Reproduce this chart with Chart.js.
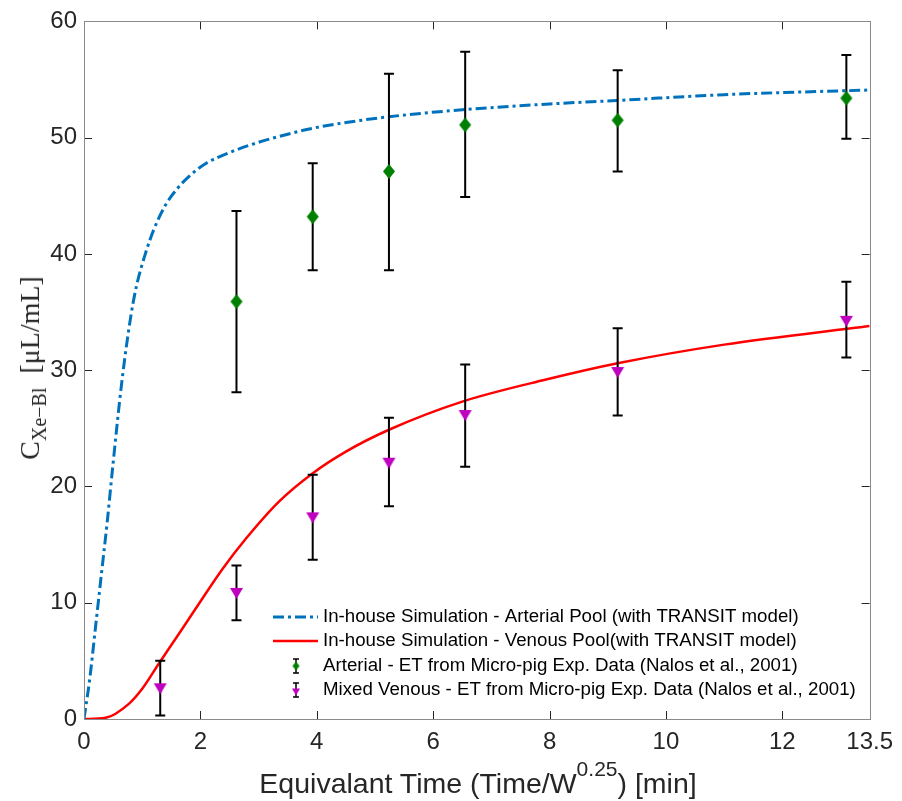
<!DOCTYPE html>
<html>
<head>
<meta charset="utf-8">
<script src="https://cdn.jsdelivr.net/npm/chart.js@4.4.1/dist/chart.umd.min.js"></script>
<style>
    html, body { margin: 0; padding: 0; background: #fff; }
    #wrap { position: relative; width: 902px; height: 801px; overflow: hidden; }
    #xlabel {
        position: absolute; left: 478px; top: 769px; transform: translateX(-50%);
        font-family: "Liberation Sans", Arial, sans-serif; font-size: 28.5px; line-height: 28px;
        color: #262626; white-space: nowrap;
    }
    #xlabel .sup { position: relative; top: -17px; font-size: 21px; }
    #ylabel {
        position: absolute; left: 31px; top: 368px; transform: translate(-50%, -50%) rotate(-90deg);
        font-family: "Liberation Serif", "Times New Roman", serif; font-size: 28px; line-height: 28px;
        color: #262626; white-space: nowrap;
    }
    #ylabel .sub { position: relative; top: 7px; font-size: 20px; }
</style>
</head>
<body>
<div id="wrap">
    <canvas id="chart" width="902" height="801"></canvas>
    <div id="xlabel">Equivalant Time (Time/W<span class="sup">0.25</span>) [min]</div>
    <div id="ylabel">C<span class="sub">Xe−Bl</span>&nbsp;&nbsp;[μL/mL]</div>
</div>
<script>
const xTicks = [0, 2, 4, 6, 8, 10, 12, 13.5];
const yTicks = [0, 10, 20, 30, 40, 50, 60];

const legendLabels = [
    'In-house Simulation - Arterial Pool (with TRANSIT model)',
    'In-house Simulation - Venous Pool(with TRANSIT model)',
    'Arterial - ET from Micro-pig Exp. Data (Nalos et al., 2001)',
    'Mixed Venous - ET from Micro-pig Exp. Data (Nalos et al., 2001)'
];

// simulated curves
const simArtX = [0, 0.1, 0.2, 0.3, 0.4, 0.5, 0.65, 0.8, 0.9, 1.06, 1.2, 1.4, 1.6, 1.81, 2.1, 2.49, 3, 3.5, 3.92, 4.5, 5.24, 6.5, 8, 9.15, 11, 13.5];
const simArtY = [0, 3.5, 8, 12.5, 17, 22, 29, 34.5, 37.2, 40.1, 42.1, 44.2, 45.6, 46.7, 47.8, 48.7, 49.6, 50.3, 50.8, 51.3, 51.8, 52.4, 52.9, 53.2, 53.7, 54.1];
const simVenX = [0, 0.37, 0.77, 1.0, 1.29, 1.6, 1.92, 2.38, 2.78, 3.35, 3.92, 4.5, 5.25, 6.5, 7.94, 9.17, 11, 13.5];
const simVenY = [0, 0.1, 1.3, 2.6, 4.8, 7.1, 9.5, 12.9, 15.5, 18.7, 21.1, 23.0, 24.9, 27.3, 29.2, 30.6, 32.2, 33.8];

// experimental points with error bars
const artX = [2.62, 3.93, 5.24, 6.55, 9.17, 13.1];
const artMean = [35.9, 43.2, 47.1, 51.1, 51.5, 53.4];
const artLo = [28.1, 38.6, 38.6, 44.9, 47.1, 49.9];
const artHi = [43.7, 47.8, 55.5, 57.4, 55.8, 57.1];

const venX = [1.31, 2.62, 3.93, 5.24, 6.55, 9.17, 13.1];
const venMean = [2.6, 10.8, 17.3, 22.0, 26.1, 29.8, 34.2];
const venLo = [0.3, 8.5, 13.7, 18.3, 21.7, 26.1, 31.1];
const venHi = [5.0, 13.2, 21.0, 25.9, 30.5, 33.6, 37.6];

const BLUE = '#0072BD';
const RED = '#FF0000';
const GREEN = '#008000';
const MAGENTA = '#BF00BF';
const BLUE_DASH = [11, 4, 3, 4];

function makeMarker(kind, w, h, color) {
    const c = document.createElement('canvas');
    c.width = w + 2; c.height = h + 2;
    const g = c.getContext('2d');
    g.beginPath();
    if (kind === 'diamond') {
        g.moveTo(1 + w / 2, 1); g.lineTo(1 + w, 1 + h / 2);
        g.lineTo(1 + w / 2, 1 + h); g.lineTo(1, 1 + h / 2);
    } else {
        g.moveTo(1, 1); g.lineTo(1 + w, 1); g.lineTo(1 + w / 2, 1 + h);
    }
    g.closePath();
    g.fillStyle = color;
    g.fill();
    return c;
}

const diamond = makeMarker('diamond', 12, 15, GREEN);
const triangle = makeMarker('tri', 13, 11, MAGENTA);
const diamondSmall = makeMarker('diamond', 7, 9, GREEN);
const triangleSmall = makeMarker('tri', 8, 7, MAGENTA);

const toXY = (xs, ys) => xs.map((x, i) => ({ x: x, y: ys[i] }));

function drawErrorBar(ctx, px, top, bottom, cap) {
    ctx.beginPath();
    ctx.moveTo(px, top); ctx.lineTo(px, bottom);
    ctx.moveTo(px - cap, top); ctx.lineTo(px + cap, top);
    ctx.moveTo(px - cap, bottom); ctx.lineTo(px + cap, bottom);
    ctx.stroke();
}

const errorBarPlugin = {
    id: 'errorBars',
    beforeDatasetDraw(chart, args) {
        const ds = chart.data.datasets[args.index];
        if (!ds.errLo) return;
        const { ctx, scales: { x, y } } = chart;
        ctx.save();
        ctx.strokeStyle = '#000';
        ctx.lineWidth = 2;
        ds.data.forEach((p, i) => {
            drawErrorBar(ctx, x.getPixelForValue(p.x), y.getPixelForValue(ds.errHi[i]), y.getPixelForValue(ds.errLo[i]), 5);
        });
        ctx.restore();
    }
};

const boxPlugin = {
    id: 'boxTicks',
    afterDraw(chart) {
        const { ctx, chartArea: a, scales: { x, y } } = chart;
        ctx.save();
        ctx.strokeStyle = '#262626';
        ctx.lineWidth = 1;
        ctx.beginPath();
        xTicks.forEach(v => {
            const px = Math.round(x.getPixelForValue(v)) + 0.5;
            ctx.moveTo(px, a.bottom); ctx.lineTo(px, a.bottom - 8);
            ctx.moveTo(px, a.top); ctx.lineTo(px, a.top + 8);
        });
        yTicks.forEach(v => {
            const py = Math.round(y.getPixelForValue(v)) + 0.5;
            ctx.moveTo(a.left, py); ctx.lineTo(a.left + 8, py);
            ctx.moveTo(a.right, py); ctx.lineTo(a.right - 8, py);
        });
        ctx.stroke();
        ctx.strokeStyle = '#8a8a8a';
        ctx.strokeRect(Math.round(a.left) + 0.5, Math.round(a.top) + 0.5, Math.round(a.right - a.left), Math.round(a.bottom - a.top));
        ctx.restore();
    }
};

// legend drawn inside the axes, lower right
const legendPlugin = {
    id: 'boxLegend',
    afterDraw(chart) {
        const ctx = chart.ctx;
        const rows = [617, 641, 666, 690];
        const x0 = 273, x1 = 318, tx = 323, mx = 296;
        ctx.save();
        ctx.lineWidth = 3;
        ctx.strokeStyle = BLUE;
        ctx.setLineDash(BLUE_DASH);
        ctx.beginPath(); ctx.moveTo(x0, rows[0]); ctx.lineTo(x1, rows[0]); ctx.stroke();
        ctx.setLineDash([]);
        ctx.lineWidth = 2.5;
        ctx.strokeStyle = RED;
        ctx.beginPath(); ctx.moveTo(x0, rows[1]); ctx.lineTo(x1, rows[1]); ctx.stroke();
        ctx.strokeStyle = '#000';
        ctx.lineWidth = 1.5;
        drawErrorBar(ctx, mx, rows[2] - 7, rows[2] + 7, 3);
        drawErrorBar(ctx, mx, rows[3] - 7, rows[3] + 7, 3);
        ctx.drawImage(diamondSmall, mx - diamondSmall.width / 2, rows[2] - diamondSmall.height / 2);
        ctx.drawImage(triangleSmall, mx - triangleSmall.width / 2, rows[3] - triangleSmall.height / 2 + 2);
        ctx.fillStyle = '#000';
        ctx.font = '18.7px "Liberation Sans", Arial, sans-serif';
        ctx.textBaseline = 'middle';
        ctx.textAlign = 'left';
        legendLabels.forEach((t, i) => ctx.fillText(t, tx, rows[i]));
        ctx.restore();
    }
};

const tickFont = { family: '"Liberation Sans", Arial, sans-serif', size: 24 };

new Chart(document.getElementById('chart'), {
    type: 'scatter',
    data: {
        datasets: [
            {
                label: legendLabels[0],
                data: toXY(simArtX, simArtY),
                showLine: true,
                borderColor: BLUE,
                borderWidth: 3,
                borderDash: BLUE_DASH,
                pointRadius: 0,
                cubicInterpolationMode: 'monotone',
                order: 3
            },
            {
                label: legendLabels[1],
                data: toXY(simVenX, simVenY),
                showLine: true,
                borderColor: RED,
                borderWidth: 2.5,
                pointRadius: 0,
                cubicInterpolationMode: 'monotone',
                order: 3
            },
            {
                label: legendLabels[2],
                data: toXY(artX, artMean),
                errLo: artLo,
                errHi: artHi,
                pointStyle: diamond,
                order: 1
            },
            {
                label: legendLabels[3],
                data: toXY(venX, venMean),
                errLo: venLo,
                errHi: venHi,
                pointStyle: triangle,
                order: 1
            }
        ]
    },
    options: {
        responsive: false,
        animation: false,
        devicePixelRatio: 1,
        layout: { padding: { top: 18, right: 31, left: 0, bottom: 0 } },
        plugins: {
            legend: { display: false },
            tooltip: { enabled: false }
        },
        scales: {
            x: {
                type: 'linear',
                min: 0,
                max: 13.5,
                grid: { display: false, drawTicks: false },
                border: { display: false },
                afterBuildTicks: s => { s.ticks = xTicks.map(v => ({ value: v })); },
                afterFit: s => { s.height = 82; },
                ticks: {
                    autoSkip: false,
                    maxRotation: 0,
                    padding: 9,
                    color: '#262626',
                    font: tickFont,
                    callback: v => String(v)
                }
            },
            y: {
                min: 0,
                max: 60,
                grid: { display: false, drawTicks: false },
                border: { display: false },
                afterBuildTicks: s => { s.ticks = yTicks.map(v => ({ value: v })); },
                afterFit: s => { s.width = 84; },
                ticks: {
                    padding: 7,
                    color: '#262626',
                    font: tickFont
                }
            }
        }
    },
    plugins: [errorBarPlugin, boxPlugin, legendPlugin]
});
</script>
</body>
</html>
